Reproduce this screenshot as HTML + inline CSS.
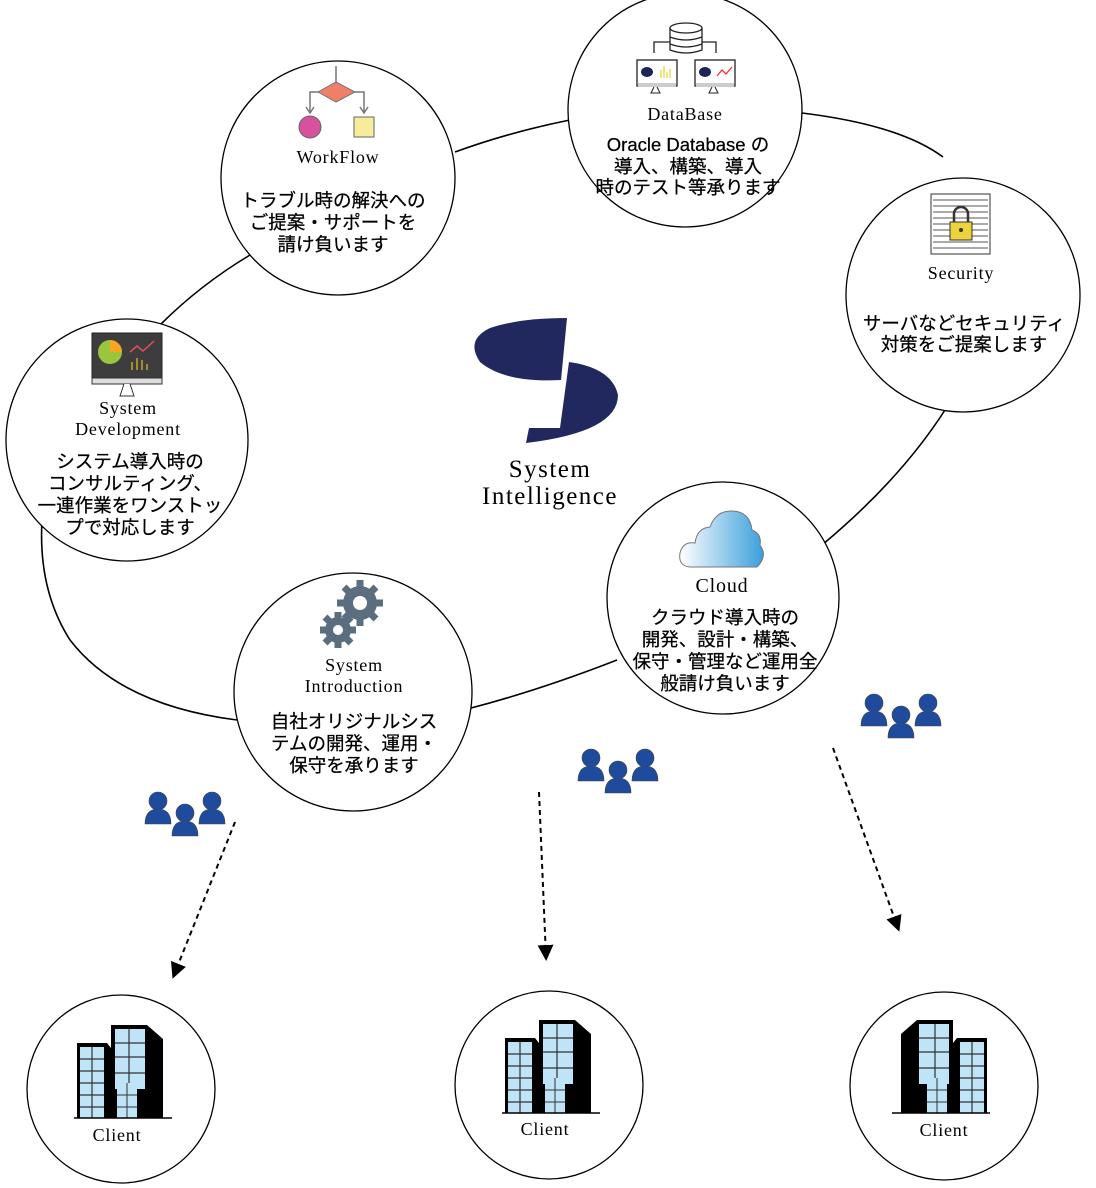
<!DOCTYPE html>
<html><head><meta charset="utf-8"><style>
html,body{margin:0;padding:0;background:#fff}
svg{display:block}
.jp{font-family:"Liberation Sans","Noto Sans CJK JP",sans-serif;font-size:18.5px;fill:#000;text-anchor:middle;stroke:#000;stroke-width:0.25}
.en{font-family:"Liberation Serif",serif;font-size:18px;letter-spacing:0.8px;fill:#000;text-anchor:middle}
</style></head><body>
<svg width="1096" height="1188" viewBox="0 0 1096 1188" xmlns="http://www.w3.org/2000/svg">
<defs>
<g id="ppl">
 <circle cx="13" cy="10" r="9" fill="#1f4b9d" stroke="#444" stroke-width="0.6"/>
 <path d="M0 33 Q0 18 13 18 Q26 18 26 33 Z" fill="#1f4b9d" stroke="#444" stroke-width="0.6"/>
 <circle cx="40" cy="22" r="9" fill="#1f4b9d" stroke="#444" stroke-width="0.6"/>
 <path d="M27 45 Q27 30 40 30 Q53 30 53 45 Z" fill="#1f4b9d" stroke="#444" stroke-width="0.6"/>
 <circle cx="67" cy="10" r="9" fill="#1f4b9d" stroke="#444" stroke-width="0.6"/>
 <path d="M54 33 Q54 18 67 18 Q80 18 80 33 Z" fill="#1f4b9d" stroke="#444" stroke-width="0.6"/>
</g>
<g id="bld">
 <rect x="0" y="18" width="30" height="75" fill="#000"/>
 <rect x="3" y="22" width="24" height="71" fill="#bfe3f7"/>
 <path d="M3 34H27M3 46H27M3 58H27M3 70H27M3 82H27M15 22V93" stroke="#333" stroke-width="1.2"/>
 <polygon points="30,18 38,28 38,93 30,93" fill="#000"/>
 <polygon points="34,0 70,0 86,14 86,93 34,93" fill="#000"/>
 <rect x="38" y="4" width="30" height="60" fill="#bfe3f7"/>
 <path d="M38 18H68M38 32H68M38 48H68M52 4V64" stroke="#333" stroke-width="1.2"/>
 <rect x="40" y="58" width="20" height="35" fill="#bfe3f7"/>
 <path d="M40 70H60M40 82H60M50 58V93" stroke="#333" stroke-width="1"/>
 <path d="M-3 93H95" stroke="#000" stroke-width="1.5"/>
</g>
<marker id="ah" markerWidth="8" markerHeight="8" refX="6" refY="4" orient="auto"><path d="M0 0L8 4L0 8Z" fill="#000"/></marker>
<linearGradient id="cg" x1="0" x2="1"><stop offset="0" stop-color="#fff"/><stop offset="1" stop-color="#3a9fdc"/></linearGradient>
</defs>

<g fill="none" stroke="#000" stroke-width="1.6">
<path d="M455 152 Q510 132 570 120"/>
<path d="M802 113 Q900 125 943 157"/>
<path d="M945 410 Q900 480 822 545"/>
<path d="M617 660 Q540 690 471 708"/>
<path d="M237 720 Q120 705 70 640 Q38 590 42 520"/>
<path d="M160 325 Q200 285 250 255"/>
</g>

<g fill="#fff" stroke="#000" stroke-width="1.3">
<circle cx="338" cy="178" r="117"/>
<circle cx="685" cy="110" r="117"/>
<circle cx="963" cy="295" r="117"/>
<circle cx="127" cy="440" r="121"/>
<circle cx="723" cy="598" r="116"/>
<circle cx="353" cy="692" r="119"/>
<circle cx="121" cy="1089" r="94"/>
<circle cx="549" cy="1085" r="94"/>
<circle cx="944" cy="1086" r="94"/>
</g>

<g stroke="#777" stroke-width="1.5" fill="none">
<path d="M336 66V82M320 92H310V112M352 92H364V112"/>
<path d="M306 107L310 113L314 107M360 107L364 113L368 107"/>
</g>
<polygon points="336,82 355,92 336,102 318,92" fill="#ef7f68" stroke="#777"/>
<circle cx="310" cy="127" r="11" fill="#d8519d" stroke="#666"/>
<rect x="354" y="117" width="20" height="20" fill="#f6ec9a" stroke="#666"/>
<text class="en" x="338" y="163">WorkFlow</text>
<text class="jp" x="333" y="207">トラブル時の解決への</text>
<text class="jp" x="333" y="229">ご提案・サポートを</text>
<text class="jp" x="333" y="251">請け負います</text>

<g stroke="#222" stroke-width="1.3" fill="#fff">
<path d="M654 53V42H670M702 42H716V53" fill="none"/>
<path d="M670 28V50Q686 56 702 50V28" />
<ellipse cx="686" cy="28" rx="16" ry="5"/>
<path d="M670 37Q686 43 702 37M670 44Q686 50 702 44" fill="none"/>
<rect x="637" y="60" width="40" height="26"/>
<rect x="695" y="60" width="40" height="26"/>
</g>
<rect x="638" y="83" width="38" height="4" fill="#ccc"/><rect x="696" y="83" width="38" height="4" fill="#ccc"/>
<path d="M654 87L651 93H660L657 87M712 87L709 93H718L715 87" stroke="#222" fill="none"/>
<ellipse cx="647" cy="72" rx="6" ry="5" fill="#1d2457"/><ellipse cx="705" cy="72" rx="6" ry="5" fill="#1d2457"/>
<path d="M661 78V70M664 78V66M667 78V72M670 78V69" stroke="#e6d22a" stroke-width="1.2"/>
<path d="M717 76L722 70L726 74L732 67" stroke="#e33" stroke-width="1.3" fill="none"/>
<text class="en" x="685" y="120">DataBase</text>
<text class="jp" x="688" y="151">Oracle Database の</text>
<text class="jp" x="688" y="173">導入、構築、導入</text>
<text class="jp" x="688" y="194">時のテスト等承ります</text>

<rect x="931" y="194" width="59" height="60" fill="#fff" stroke="#333"/>
<g stroke="#555" stroke-width="1">
<path d="M933 200H988M933 206H988M933 212H988M933 218H988M933 224H988M933 230H988M933 236H988M933 242H988M933 248H988"/>
</g>
<path d="M954 222V214A7 7 0 0 1 968 214V222" fill="none" stroke="#333" stroke-width="2.5"/>
<rect x="950" y="222" width="22" height="18" fill="#ecd23b" stroke="#333"/>
<circle cx="961" cy="230" r="2" fill="#333"/>
<text class="en" x="961" y="279">Security</text>
<text class="jp" x="964" y="330">サーバなどセキュリティ</text>
<text class="jp" x="964" y="351">対策をご提案します</text>

<rect x="92" y="333" width="70" height="46" fill="#3d3d3d" stroke="#222"/>
<rect x="92" y="378" width="70" height="6" fill="#ddd" stroke="#333"/>
<path d="M124 384L120 396H134L130 384" fill="#fff" stroke="#333"/>
<circle cx="110" cy="352" r="12" fill="#9bc53d"/>
<path d="M110 352V340A12 12 0 0 1 122 352Z" fill="#f6a623"/>
<path d="M130 352L137 346L143 351L154 341" stroke="#e74c5b" stroke-width="1.5" fill="none"/>
<path d="M132 370V362M137 370V358M142 370V360M147 370V364" stroke="#e6c22a" stroke-width="1.2"/>
<text class="en" x="128" y="414">System</text>
<text class="en" x="128" y="435">Development</text>
<text class="jp" x="130" y="468">システム導入時の</text>
<text class="jp" x="130" y="490">コンサルティング、</text>
<text class="jp" x="130" y="512">一連作業をワンストッ</text>
<text class="jp" x="130" y="534">プで対応します</text>

<path d="M690 567Q678 566 680 553Q683 541 695 543Q697 528 710 527Q716 510 733 511Q750 512 752 530Q762 534 760 545Q768 556 757 567Z" fill="url(#cg)" stroke="#777"/>
<text class="en" x="722" y="592" style="font-size:20px">Cloud</text>
<text class="jp" x="725" y="624">クラウド導入時の</text>
<text class="jp" x="725" y="646">開発、設計・構築、</text>
<text class="jp" x="725" y="668">保守・管理など運用全</text>
<text class="jp" x="725" y="690">般請け負います</text>

<g fill="#5a6e80">
<circle cx="360" cy="603" r="17"/>
<g stroke="#5a6e80" stroke-width="7">
<path d="M360 580V626M337 603H383M344 587L376 619M376 587L344 619"/>
<path d="M338 612V648M320 630H356M325 617L351 643M351 617L325 643"/>
</g>
<circle cx="338" cy="630" r="13"/>
</g>
<circle cx="360" cy="603" r="7" fill="#fff"/>
<circle cx="338" cy="630" r="5" fill="#fff"/>
<text class="en" x="354" y="671">System</text>
<text class="en" x="354" y="692">Introduction</text>
<text class="jp" x="354" y="728">自社オリジナルシス</text>
<text class="jp" x="354" y="750">テムの開発、運用・</text>
<text class="jp" x="354" y="772">保守を承ります</text>

<path d="M567 318L561 380Q505 383 480 362Q465 340 490 328Q520 318 567 318Z" fill="#21285e"/>
<path d="M569 362Q612 368 618 395Q618 432 526 443L529 428L560 428Z" fill="#21285e"/>
<text class="en" x="550" y="477" style="font-size:25px;letter-spacing:1.5px">System</text>
<text class="en" x="550" y="504" style="font-size:25px;letter-spacing:1.5px">Intelligence</text>

<use href="#ppl" x="145" y="791"/>
<use href="#ppl" x="578" y="748"/>
<use href="#ppl" x="861" y="693"/>

<g stroke="#000" stroke-width="2" stroke-dasharray="5,4" fill="none" marker-end="url(#ah)">
<path d="M235 822L174 975"/>
<path d="M539 792L546 957"/>
<path d="M833 748L898 928"/>
</g>

<use href="#bld" x="77" y="1025"/>
<use href="#bld" x="505" y="1020"/>
<g transform="translate(987,1020) scale(-1,1)"><use href="#bld"/></g>
<text class="en" x="117" y="1141">Client</text>
<text class="en" x="545" y="1135">Client</text>
<text class="en" x="944" y="1136">Client</text>
</svg>
</body></html>
